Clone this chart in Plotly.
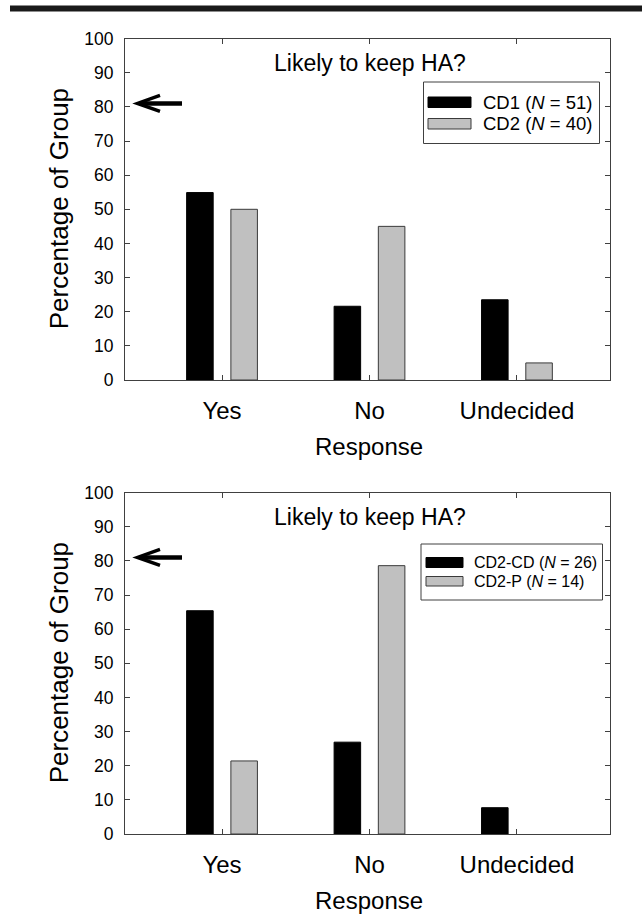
import plotly.graph_objects as go

# ---------------- data ----------------
categories = ["Yes", "No", "Undecided"]
top_cd1 = [54.9, 21.6, 23.5]
top_cd2 = [50.0, 45.0, 5.0]
bot_cdcd = [65.4, 26.9, 7.7]
bot_cdp = [21.4, 78.6, 0.0]
top_names = ["CD1 (<i>N</i> = 51)", "CD2 (<i>N</i> = 40)"]
bot_names = ["CD2-CD (<i>N</i> = 26)", "CD2-P (<i>N</i> = 14)"]
y_ticks = [0, 10, 20, 30, 40, 50, 60, 70, 80, 90, 100]
panel_title = "Likely to keep HA?"
x_title = "Response"
y_title = "Percentage of Group"
ref_level = 81.0

# ---------------- style ----------------
W, H = 642, 924
FONT = "Liberation Sans, Arial, Helvetica, sans-serif"
BLACK = "#000000"
GREY = "#c0c0c0"
EDGE = "#3a3a3a"
AX = "#404040"


def fx(px):
    return px / W


def fy(py):
    return 1 - py / H


def edge_widths(values):
    # no outline for empty (zero-height) bars
    return [1 if v > 0 else 0 for v in values]


X_LEFT, X_RIGHT = 125, 610
panels = [
    dict(top=38.6, bottom=380.0, s1=top_cd1, s2=top_cd2, names=top_names,
         ax="", leg=dict(x0=423.5, x1=599.5, y0=82, y1=143.5, sx0=428, sx1=471,
                         r1=(97, 107.5), r2=(118.5, 129), tx=481, fs=18.5)),
    dict(top=492.6, bottom=834.0, s1=bot_cdcd, s2=bot_cdp, names=bot_names,
         ax="2", leg=dict(x0=421, x1=602.5, y0=544, y1=600, sx0=426, sx1=463,
                          r1=(557.5, 567.5), r2=(576.5, 586), tx=472, fs=16)),
]

fig = go.Figure()
shapes = []
annotations = []

for p in panels:
    xa = "x" + p["ax"]
    ya = "y" + p["ax"]
    fig.add_trace(go.Bar(
        x=categories, y=p["s1"], name=p["names"][0], xaxis=xa, yaxis=ya,
        marker=dict(color=BLACK, line=dict(color=BLACK, width=edge_widths(p["s1"]))),
        showlegend=False, hoverinfo="skip"))
    fig.add_trace(go.Bar(
        x=categories, y=p["s2"], name=p["names"][1], xaxis=xa, yaxis=ya,
        marker=dict(color=GREY, line=dict(color=EDGE, width=edge_widths(p["s2"]))),
        showlegend=False, hoverinfo="skip"))

    xdom = [fx(X_LEFT), fx(X_RIGHT)]
    ydom = [fy(p["bottom"]), fy(p["top"])]
    common = dict(showline=True, linecolor=AX, linewidth=1, mirror="ticks",
                  ticks="inside", ticklen=5, tickwidth=1, tickcolor=AX,
                  showgrid=False, zeroline=False, automargin=False)
    fig.update_layout(**{
        "xaxis" + p["ax"]: dict(
            domain=xdom, anchor=ya, type="category",
            categoryorder="array", categoryarray=categories,
            range=[-0.658, 2.631],
            tickfont=dict(family=FONT, size=24, color=BLACK),
            ticklabelstandoff=9, **common),
        "yaxis" + p["ax"]: dict(
            domain=ydom, anchor=xa, range=[0, 100],
            tickmode="array", tickvals=y_ticks,
            ticktext=[str(v) for v in y_ticks],
            tickfont=dict(family=FONT, size=17.5, color=BLACK),
            ticklabelstandoff=7, **common),
    })

    plot_h = p["bottom"] - p["top"]
    # panel title
    annotations.append(dict(
        text=panel_title, xref="paper", yref="paper",
        x=fx(370), y=fy(p["top"] + 24), xanchor="center", yanchor="middle",
        showarrow=False, font=dict(family=FONT, size=23, color=BLACK)))
    # x axis title
    annotations.append(dict(
        text=x_title, xref="paper", yref="paper",
        x=fx(368.5), y=fy(p["bottom"] + 66.5), xanchor="center", yanchor="middle",
        showarrow=False, font=dict(family=FONT, size=24, color=BLACK)))
    # y axis title
    annotations.append(dict(
        text=y_title, xref="paper", yref="paper", textangle=-90,
        x=fx(59), y=fy((p["top"] + p["bottom"]) / 2), xanchor="center", yanchor="middle",
        showarrow=False, font=dict(family=FONT, size=26, color=BLACK)))

    # legend (drawn by hand)
    L = p["leg"]
    shapes.append(dict(type="rect", xref="paper", yref="paper",
                       x0=fx(L["x0"]), x1=fx(L["x1"]), y0=fy(L["y0"]), y1=fy(L["y1"]),
                       line=dict(color=AX, width=1), fillcolor="white"))
    for (r0, r1), col, edge, name in [(L["r1"], BLACK, BLACK, p["names"][0]),
                                      (L["r2"], GREY, EDGE, p["names"][1])]:
        shapes.append(dict(type="rect", xref="paper", yref="paper",
                           x0=fx(L["sx0"]), x1=fx(L["sx1"]), y0=fy(r1), y1=fy(r0),
                           line=dict(color=edge, width=1), fillcolor=col))
        annotations.append(dict(
            text=name, xref="paper", yref="paper",
            x=fx(L["tx"]), y=fy((r0 + r1) / 2), xanchor="left", yanchor="middle",
            showarrow=False, font=dict(family=FONT, size=L["fs"], color=BLACK)))

    # reference arrow at ~81 %
    tip, tail, back = fx(137.5), fx(182), fx(160)
    hh = 8 / (plot_h / 100.0)
    y0 = ref_level
    shapes.append(dict(
        type="path", xref="paper", yref=ya,
        path=f"M {tail},{y0} L {tip + 0.004},{y0}",
        line=dict(color=BLACK, width=4.5)))
    shapes.append(dict(
        type="path", xref="paper", yref=ya,
        path=f"M {back},{y0 + hh} L {tip},{y0} L {back},{y0 - hh}",
        line=dict(color=BLACK, width=3.5)))

# top black rule
shapes.append(dict(type="rect", xref="paper", yref="paper",
                   x0=fx(10), x1=1.0, y0=fy(11.5), y1=fy(5.5),
                   line=dict(width=0), fillcolor="#1a1a1a"))

fig.update_layout(
    width=W, height=H,
    margin=dict(l=0, r=0, t=0, b=0),
    paper_bgcolor="white", plot_bgcolor="white",
    barmode="group", bargap=0.4, bargroupgap=0.4,
    showlegend=False,
    shapes=shapes, annotations=annotations,
    font=dict(family=FONT, color=BLACK),
)

fig.write_html("out.html")
